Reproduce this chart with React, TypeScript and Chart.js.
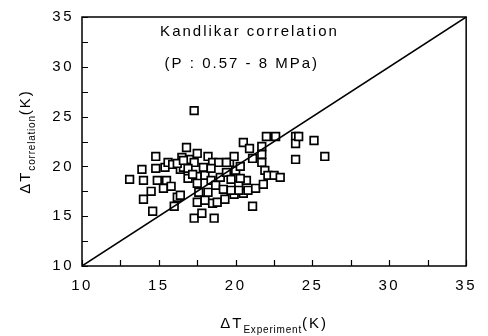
import React, { useEffect, useRef } from "react";
import { Chart, registerables } from "chart.js";

Chart.register(...registerables);

const xExperiment = [
  13.1, 13.9, 14.0, 14.0, 14.5, 14.6, 14.8, 14.8, 14.9, 15.3, 15.4, 15.5, 15.6, 15.9, 16.0,
  16.2, 16.4, 16.4, 16.5, 16.6, 16.8, 16.9, 17.0, 17.3, 17.3, 17.3, 17.5, 17.5, 17.5, 17.5,
  17.6, 17.8, 17.9, 18.0, 18.0, 18.2, 18.2, 18.4, 18.5, 18.5, 18.6, 18.7, 18.8, 18.9, 19.0,
  19.2, 19.3, 19.4, 19.6, 19.7, 19.9, 19.9, 20.0, 20.2, 20.3, 20.5, 20.5, 20.7, 20.8, 20.9,
  21.1, 21.1, 21.3, 21.7, 21.7, 21.7, 21.8, 21.9, 22.0, 22.1, 22.5, 22.6, 22.9, 23.9, 23.9,
  23.9, 24.1, 25.1, 25.8, 20.3, 20.2, 19.7, 19.4, 16.2, 16.6, 16.9, 15.8, 17.2, 18.4,
];
const yCorrelation = [
  18.7, 19.7, 18.6, 16.7, 17.5, 15.5, 21.0, 19.8, 18.6, 17.8, 19.9, 18.6, 20.4, 20.2, 16.0,
  16.9, 19.7, 17.1, 20.9, 19.9, 21.9, 18.8, 20.7, 25.6, 20.4, 14.8, 21.3, 19.0, 18.3, 16.4,
  17.4, 15.3, 19.9, 19.1, 16.6, 21.0, 17.4, 18.6, 20.4, 16.3, 14.8, 18.1, 16.4, 20.4, 18.9,
  17.7, 16.7, 19.4, 20.4, 18.7, 21.0, 17.2, 19.6, 18.1, 20.0, 22.4, 17.3, 18.6, 17.6, 21.8,
  20.8, 16.0, 17.8, 22.0, 21.2, 20.4, 18.2, 19.6, 23.0, 19.1, 19.1, 23.0, 18.9, 23.0, 22.3,
  20.7, 23.0, 22.6, 21.0, 18.8, 17.6, 17.6, 20.4, 20.3, 20.6, 19.8, 18.0, 19.2, 19.8,
];
const diagonal = [10, 35];
const axisMin = 10;
const axisMax = 35;
const tickStep = 2.5;
const titleLine1 = "Kandlikar correlation";
const titleLine2 = "(P : 0.57 - 8 MPa)";

const FONT = '"Liberation Sans", Arial, sans-serif';

const decorPlugin = {
  id: "decor",
  beforeUpdate(chart: any) {
    chart.ctx.letterSpacing = "2.5px";
  },
  beforeDraw(chart: any) {
    chart.ctx.letterSpacing = "2.5px";
  },
  afterDraw(chart: any) {
    const ctx = chart.ctx;
    const { left, right, top, bottom } = chart.chartArea;
    const xs = chart.scales.x;
    const ys = chart.scales.y;
    ctx.save();
    ctx.strokeStyle = "#000";
    ctx.lineWidth = 1.5;
    ctx.strokeRect(left, top, right - left, bottom - top);
    // inward ticks
    ctx.lineWidth = 1.2;
    ctx.beginPath();
    xs.ticks.forEach((t: any) => {
      const px = Math.round(xs.getPixelForValue(t.value)) + 0.5;
      ctx.moveTo(px, bottom);
      ctx.lineTo(px, bottom - 6);
    });
    ys.ticks.forEach((t: any) => {
      const py = Math.round(ys.getPixelForValue(t.value)) + 0.5;
      ctx.moveTo(left, py);
      ctx.lineTo(left + 6, py);
    });
    ctx.stroke();

    // annotations
    ctx.fillStyle = "#000";
    ctx.font = "15px " + FONT;
    ctx.letterSpacing = "2px";
    ctx.textAlign = "center";
    ctx.textBaseline = "middle";
    ctx.fillText(titleLine1, xs.getPixelForValue(20.9), ys.getPixelForValue(33.5));
    ctx.fillText(titleLine2, xs.getPixelForValue(20.4), ys.getPixelForValue(30.3));

    // axis titles with subscripts
    const drawTitle = (main: string, sub: string, tail: string, cx: number, cy: number) => {
      ctx.textAlign = "left";
      ctx.textBaseline = "alphabetic";
      ctx.font = "15px " + FONT;
      ctx.letterSpacing = "2px";
      const w1 = ctx.measureText(main).width;
      const w3 = ctx.measureText(tail).width;
      ctx.font = "10px " + FONT;
      ctx.letterSpacing = "0.8px";
      const w2 = ctx.measureText(sub).width;
      let x0 = cx - (w1 + w2 + w3) / 2;
      ctx.font = "15px " + FONT;
      ctx.letterSpacing = "2px";
      ctx.fillText(main, x0, cy);
      ctx.font = "10px " + FONT;
      ctx.letterSpacing = "0.8px";
      ctx.fillText(sub, x0 + w1, cy + 5);
      ctx.font = "15px " + FONT;
      ctx.letterSpacing = "2px";
      ctx.fillText(tail, x0 + w1 + w2, cy);
    };
    drawTitle("\u0394T", "Experiment", "(K)", (left + right) / 2, 328);
    ctx.save();
    ctx.translate(30, (top + bottom) / 2);
    ctx.rotate(-Math.PI / 2);
    drawTitle("\u0394T", "correlation", "(K)", 0, 0);
    ctx.restore();
    ctx.restore();
  },
};

export default function App() {
  const ref = useRef<HTMLCanvasElement | null>(null);
  useEffect(() => {
    if (!ref.current) return;
    const points = xExperiment.map((x, i) => ({ x, y: yCorrelation[i] }));
    const chart = new Chart(ref.current, {
      type: "scatter",
      data: {
        datasets: [
          {
            type: "line",
            data: diagonal.map((v) => ({ x: v, y: v })),
            borderColor: "#000",
            borderWidth: 1.5,
            pointRadius: 0,
            fill: false,
          } as any,
          {
            data: points,
            pointStyle: "rect",
            pointRadius: 5.4,
            pointBorderWidth: 1.7,
            pointBorderColor: "#000",
            pointBackgroundColor: "#fff",
            borderColor: "#000",
            backgroundColor: "#fff",
          },
        ],
      },
      options: {
        responsive: false,
        animation: false,
        layout: { padding: { top: 16, right: 15, left: 0, bottom: 0 } },
        plugins: { legend: { display: false }, tooltip: { enabled: false } },
        scales: {
          x: {
            type: "linear",
            min: axisMin,
            max: axisMax,
            grid: { display: false, drawTicks: false },
            border: { display: false },
            ticks: {
              stepSize: tickStep,
              autoSkip: false,
              maxRotation: 0,
              padding: 11,
              color: "#000",
              font: { family: FONT, size: 15 },
              callback: (v: any) => (Number(v) % 5 === 0 ? String(v) : ""),
            },
            afterFit: (s: any) => {
              s.height = 70;
            },
          },
          y: {
            type: "linear",
            min: axisMin,
            max: axisMax,
            grid: { display: false, drawTicks: false },
            border: { display: false },
            ticks: {
              stepSize: tickStep,
              autoSkip: false,
              padding: 8,
              color: "#000",
              font: { family: FONT, size: 15 },
              callback: (v: any) => (Number(v) % 5 === 0 ? String(v) : ""),
            },
            afterFit: (s: any) => {
              s.width = 82;
            },
          },
        },
      },
      plugins: [decorPlugin],
    });
    return () => chart.destroy();
  }, []);
  return (
    <div style={{ position: "absolute", left: 0, top: 0, width: 488, height: 336, background: "#fff" }}>
      <canvas ref={ref} width={488} height={336} style={{ display: "block" }} />
    </div>
  );
}
